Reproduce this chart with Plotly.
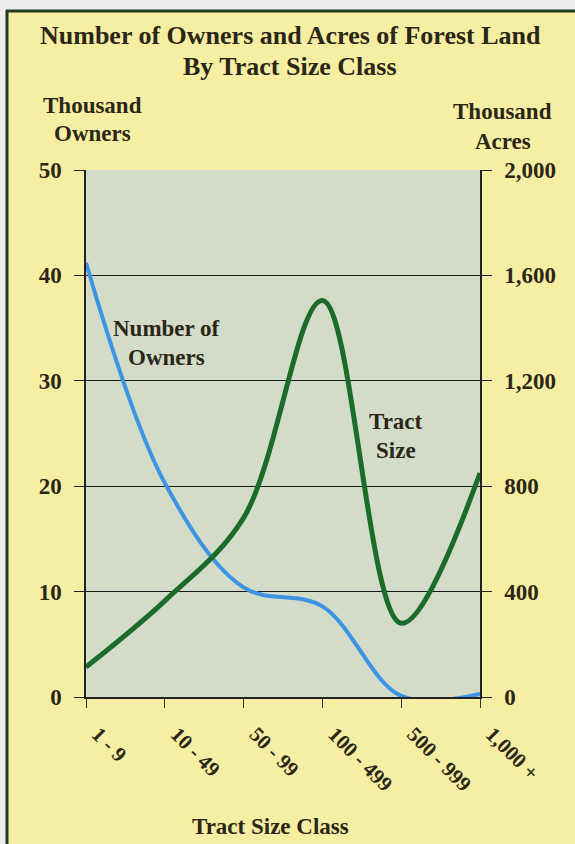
import plotly.graph_objects as go

categories = ["1 - 9", "10 - 49", "50 - 99", "100 - 499", "500 - 999", "1,000 +"]
owners_thousand = [41.2, 20.3, 10.4, 8.6, 0.1, 0.3]
acres_thousand = [114, 365, 680, 1505, 280, 850]
left_ticks = [0, 10, 20, 30, 40, 50]
right_ticks = [0, 400, 800, 1200, 1600, 2000]

W, H = 575, 844
L, R, T, B = 86, 480, 170, 697
FONT = "Liberation Serif, Times New Roman, serif"
TXT = "#2b2616"

def px(x):
    return (x - L) / (R - L)

def py(y):
    return (B - y) / (B - T)

fig = go.Figure()
fig.add_trace(go.Scatter(x=categories, y=owners_thousand, mode="lines",
                         line=dict(color="#3d94e2", width=4, shape="spline", smoothing=1.0),
                         yaxis="y", showlegend=False))
fig.add_trace(go.Scatter(x=categories, y=acres_thousand, mode="lines",
                         line=dict(color="#1d6b2b", width=5, shape="spline", smoothing=1.0),
                         yaxis="y2", showlegend=False))

axfont = dict(family=FONT, size=23, color=TXT, weight="bold")
fig.update_layout(
    width=W, height=H,
    margin=dict(l=L, r=W - R, t=T, b=H - B),
    paper_bgcolor="#f6efa3",
    plot_bgcolor="#d3dcc9",
    font=dict(family=FONT, color=TXT),
    xaxis=dict(type="category", range=[0, 5], showgrid=False, showline=True,
               linecolor="#222", linewidth=1.5, ticks="outside", ticklen=9,
               tickcolor="#333", tickangle=45,
               tickfont=dict(family=FONT, size=21, color=TXT, weight="bold"),
               ticklabelstandoff=6, ticklabelshift=12, mirror=False, zeroline=False),
    yaxis=dict(range=[0, 50], tickvals=left_ticks, showgrid=True, gridcolor="#1a1a1a",
               gridwidth=1, showline=True, linecolor="#222", linewidth=1.5,
               ticks="outside", ticklen=10, tickcolor="#222", tickfont=axfont,
               ticklabelstandoff=8, zeroline=False),
    yaxis2=dict(range=[0, 2000], tickvals=right_ticks, tickformat=",", overlaying="y",
                side="right", showgrid=False, showline=True, linecolor="#222",
                linewidth=1.5, ticks="outside", ticklen=10, tickcolor="#222",
                tickfont=axfont, ticklabelstandoff=8, zeroline=False),
)

def ann(text, x, y, size, xanchor="center"):
    fig.add_annotation(text=text, x=px(x), y=py(y), xref="paper", yref="paper",
                       showarrow=False, xanchor=xanchor, yanchor="middle",
                       font=dict(family=FONT, size=size, color=TXT))

def bold(s):
    return "<b>" + s + "</b>"

ann(bold("Number of Owners and Acres of Forest Land"), 290, 35, 26)
ann(bold("By Tract Size Class"), 290, 66, 26)
ann(bold("Thousand"), 92, 105, 23)
ann(bold("Owners"), 92, 134, 23)
ann(bold("Thousand"), 503, 112, 23)
ann(bold("Acres"), 503, 141, 23)
ann(bold("Number of"), 166, 328, 23)
ann(bold("Owners"), 166, 357, 23)
ann(bold("Tract"), 396, 421, 23)
ann(bold("Size"), 396, 450, 23)
ann(bold("Tract Size Class"), 270, 826, 23)

# outer frame: light margin strips and dark green border
fig.add_shape(type="rect", xref="paper", yref="paper", x0=px(-5), x1=px(6), y0=py(H + 5), y1=py(-5),
              fillcolor="#ececec", line=dict(width=0), layer="above")
fig.add_shape(type="rect", xref="paper", yref="paper", x0=px(-5), x1=px(W + 5), y0=py(10), y1=py(-5),
              fillcolor="#ececec", line=dict(width=0), layer="above")
fig.add_shape(type="line", xref="paper", yref="paper", x0=px(7), x1=px(7), y0=py(H + 5), y1=py(10),
              line=dict(color="#1f3a24", width=3), layer="above")
fig.add_shape(type="line", xref="paper", yref="paper", x0=px(6), x1=px(W + 5), y0=py(11), y1=py(11),
              line=dict(color="#1f3a24", width=3), layer="above")

fig.write_html("out.html", config={"displayModeBar": False},
               post_script="document.body.style.margin='0';document.body.style.overflow='hidden';")
